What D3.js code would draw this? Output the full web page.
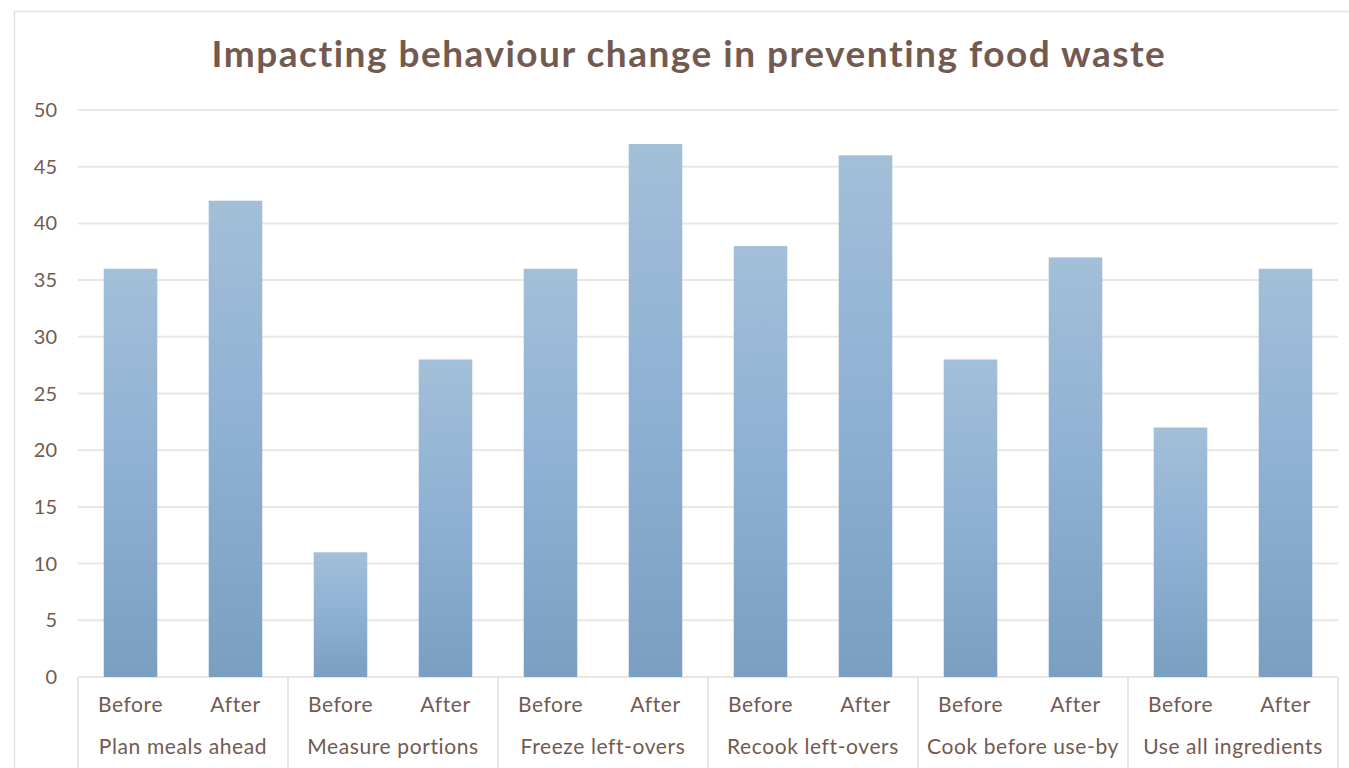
<!DOCTYPE html>
<html>
<head>
<meta charset="utf-8">
<script src="https://cdn.jsdelivr.net/npm/d3@7"></script>
<style>
  html, body { margin: 0; padding: 0; background: #fff; }
  svg { display: block; font-family: Lato, "Open Sans", sans-serif; }
</style>
</head>
<body>
<div id="chart"></div>
<script>
// chart data
const groups = ['Plan meals ahead', 'Measure portions', 'Freeze left-overs', 'Recook left-overs', 'Cook before use-by', 'Use all ingredients']
const phases = ['Before', 'After']
const before = [36, 11, 36, 38, 28, 22]
const after = [42, 28, 47, 46, 37, 36]
const yTicks = [0, 5, 10, 15, 20, 25, 30, 35, 40, 45, 50]
const title = 'Impacting behaviour change in preventing food waste'

const width = 1349
const height = 768
const margin = { top: 110, right: 11, bottom: 91, left: 78 }
const textColor = '#735a50'
const gridColor = '#ece6e2'

// flatten into one row per bar
const rows = []
groups.forEach((g, i) => {
  rows.push({ group: g, phase: phases[0], value: before[i], key: g + '|' + phases[0] })
  rows.push({ group: g, phase: phases[1], value: after[i], key: g + '|' + phases[1] })
})

const svg = d3.select('#chart')
  .append('svg')
  .attr('width', width)
  .attr('height', height)

// bar gradient, lighter at the top
const defs = svg.append('defs')
const grad = defs.append('linearGradient')
  .attr('id', 'barGrad')
  .attr('x1', 0).attr('y1', 0).attr('x2', 0).attr('y2', 1)
grad.append('stop').attr('offset', '0%').attr('stop-color', '#a3bfd8')
grad.append('stop').attr('offset', '50%').attr('stop-color', '#8eb0d3')
grad.append('stop').attr('offset', '100%').attr('stop-color', '#7a9fc1')

// chart frame (runs off right and bottom edge)
svg.append('rect')
  .attr('x', 14.5)
  .attr('y', 11.5)
  .attr('width', width + 20)
  .attr('height', height + 20)
  .attr('fill', 'none')
  .attr('stroke', '#e8e2de')
  .attr('stroke-width', 1.5)

const x0 = margin.left
const x1 = width - margin.right
const yBottom = height - margin.bottom

const x = d3.scaleBand()
  .domain(rows.map(d => d.key))
  .range([x0, x1])
  .paddingInner(0.49)
  .paddingOuter(0.245)

const y = d3.scaleLinear()
  .domain([0, 50])
  .range([yBottom, margin.top])

// title
svg.append('text')
  .attr('x', 689)
  .attr('y', 67)
  .attr('text-anchor', 'middle')
  .attr('fill', textColor)
  .attr('font-size', 37)
  .attr('font-weight', 'bold')
  .attr('letter-spacing', 1.5)
  .text(title)

// gridlines + y labels
const yAxis = svg.append('g')
yAxis.selectAll('line')
  .data(yTicks)
  .join('line')
  .attr('x1', x0)
  .attr('x2', x1)
  .attr('y1', d => y(d))
  .attr('y2', d => y(d))
  .attr('stroke', gridColor)
  .attr('stroke-width', 2)

yAxis.selectAll('text')
  .data(yTicks)
  .join('text')
  .attr('x', 57)
  .attr('y', d => y(d))
  .attr('dy', '0.35em')
  .attr('text-anchor', 'end')
  .attr('fill', textColor)
  .attr('font-size', 20)
  .text(d => d)

// bars
svg.append('g')
  .selectAll('rect')
  .data(rows)
  .join('rect')
  .attr('x', d => x(d.key))
  .attr('y', d => y(d.value))
  .attr('width', x.bandwidth())
  .attr('height', d => y(0) - y(d.value))
  .attr('fill', 'url(#barGrad)')

// category axis: phase labels, group labels and dividers
const step = x.step()
const groupWidth = step * 2

const xAxis = svg.append('g')
xAxis.selectAll('text.phase')
  .data(rows)
  .join('text')
  .attr('class', 'phase')
  .attr('x', d => x(d.key) + x.bandwidth() / 2)
  .attr('y', 712)
  .attr('text-anchor', 'middle')
  .attr('fill', textColor)
  .attr('font-size', 21)
  .attr('letter-spacing', 0.6)
  .text(d => d.phase)

xAxis.selectAll('text.group')
  .data(groups)
  .join('text')
  .attr('class', 'group')
  .attr('x', (d, i) => x0 + groupWidth * i + groupWidth / 2)
  .attr('y', 754)
  .attr('text-anchor', 'middle')
  .attr('fill', textColor)
  .attr('font-size', 21)
  .attr('letter-spacing', 0.6)
  .text(d => d)

xAxis.selectAll('line')
  .data(d3.range(groups.length + 1))
  .join('line')
  .attr('x1', i => x0 + groupWidth * i)
  .attr('x2', i => x0 + groupWidth * i)
  .attr('y1', yBottom)
  .attr('y2', height)
  .attr('stroke', gridColor)
  .attr('stroke-width', 2)
</script>
</body>
</html>
